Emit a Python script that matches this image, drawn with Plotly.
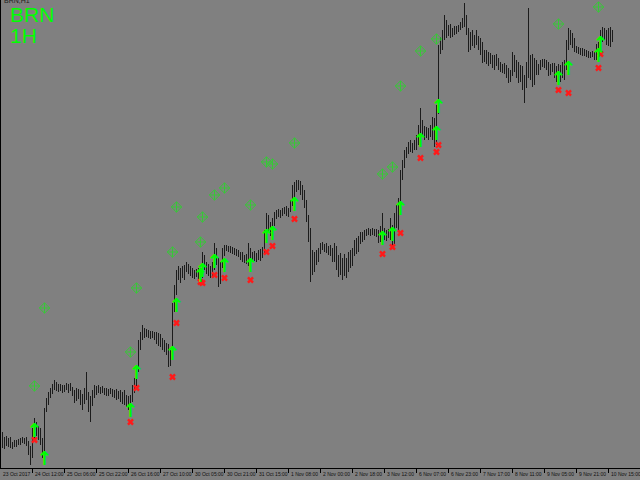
import plotly.graph_objects as go

# ---- OHLC data (BRN, 1H) ----
opens = [
57.60,57.64,57.55,57.60,57.57,57.61,57.54,57.56,57.55,57.59,57.57,57.60,57.59,57.61,57.56,57.48,
57.44,57.70,57.75,57.68,57.70,57.58,57.48,57.90,57.98,58.05,58.09,58.13,58.16,58.11,58.14,58.11,
58.12,58.14,58.12,58.15,58.10,58.07,58.01,58.09,58.04,57.98,58.02,58.05,58.02,57.92,58.00,58.07,
58.10,58.12,58.09,58.11,58.08,58.10,58.06,58.09,58.08,58.05,58.08,58.03,58.06,58.02,58.04,57.99,
57.97,57.94,58.02,58.12,58.18,58.32,58.55,58.64,58.70,58.66,58.69,58.65,58.67,58.64,58.66,58.59,
58.63,58.56,58.58,58.52,58.54,58.40,58.45,58.92,59.10,59.26,59.24,59.28,59.25,59.32,59.35,59.30,
59.27,59.24,59.28,59.26,59.24,59.28,59.42,59.34,59.32,59.28,59.30,59.34,59.50,59.38,59.20,59.35,
59.48,59.53,59.52,59.51,59.50,59.49,59.48,59.47,59.45,59.46,59.41,59.43,59.39,59.50,59.42,59.46,
59.42,59.45,59.43,59.48,59.50,59.65,59.82,59.72,59.68,59.78,59.85,59.87,59.85,59.88,59.90,59.91,
59.87,59.90,59.97,60.10,60.14,60.17,60.13,60.08,60.04,59.95,59.82,59.62,59.38,59.32,59.42,59.45,
59.48,59.54,59.52,59.55,59.50,59.52,59.47,59.42,59.50,59.35,59.40,59.30,59.38,59.28,59.38,59.44,
59.38,59.50,59.56,59.52,59.60,59.64,59.62,59.67,59.69,59.67,59.70,59.68,59.69,59.66,59.62,59.70,
59.67,59.64,59.68,59.65,59.68,59.60,59.80,59.88,59.95,60.25,60.35,60.47,60.50,60.54,60.52,60.55,
60.53,60.62,60.68,60.72,60.67,60.70,60.65,60.69,60.66,60.78,60.60,60.90,61.50,61.58,61.65,61.75,
61.68,61.72,61.66,61.70,61.68,61.72,61.73,61.75,61.78,61.80,61.70,61.55,61.62,61.58,61.62,61.57,
61.54,61.48,61.42,61.46,61.40,61.44,61.39,61.37,61.42,61.38,61.34,61.32,61.30,61.34,61.25,61.20,
61.28,61.42,61.32,61.36,61.22,61.30,61.15,61.20,61.32,61.28,61.40,61.18,61.37,61.28,61.34,61.38,
61.36,61.39,61.33,61.28,61.34,61.30,61.26,61.30,61.24,61.32,61.26,61.36,61.55,61.65,61.60,61.56,
61.52,61.50,61.48,61.50,61.47,61.49,61.46,61.45,61.47,61.44,61.46,61.50,61.54,61.65,61.68,61.62,61.66,61.58,61.64]

highs = [
57.70,57.68,57.63,57.64,57.62,57.63,57.58,57.60,57.60,57.61,57.62,57.63,57.62,57.63,57.59,57.54,
57.72,57.82,57.78,57.74,57.72,57.62,57.92,58.02,58.08,58.12,58.16,58.20,58.18,58.16,58.16,58.15,
58.15,58.17,58.16,58.17,58.13,58.10,58.12,58.11,58.10,58.06,58.12,58.28,58.08,58.04,58.10,58.15,
58.14,58.15,58.13,58.14,58.12,58.12,58.11,58.12,58.11,58.10,58.11,58.09,58.10,58.08,58.10,58.05,
58.04,58.05,58.15,58.22,58.35,58.60,58.68,58.75,58.72,58.71,58.70,58.69,58.69,58.68,58.68,58.67,
58.66,58.62,58.60,58.57,58.56,58.50,58.97,59.15,59.30,59.34,59.32,59.34,59.35,59.38,59.36,59.34,
59.32,59.30,59.31,59.32,59.30,59.48,59.45,59.38,59.36,59.34,59.38,59.57,59.52,59.42,59.38,59.52,
59.55,59.55,59.54,59.54,59.53,59.52,59.51,59.50,59.48,59.48,59.45,59.46,59.57,59.52,59.48,59.49,
59.47,59.50,59.51,59.53,59.70,59.87,59.85,59.78,59.82,59.88,59.90,59.91,59.90,59.92,59.93,59.94,
59.92,60.00,60.15,60.18,60.20,60.20,60.19,60.15,60.10,60.00,59.85,59.72,59.50,59.48,59.50,59.52,
59.57,59.58,59.56,59.57,59.54,59.55,59.52,59.57,59.54,59.45,59.47,59.42,59.46,59.42,59.48,59.50,
59.52,59.60,59.62,59.64,59.68,59.68,59.70,59.71,59.72,59.71,59.72,59.71,59.71,59.70,59.74,59.87,
59.72,59.70,59.71,59.82,59.75,59.87,59.95,60.02,60.30,60.40,60.50,60.53,60.58,60.60,60.57,60.60,
60.65,60.75,60.92,60.80,60.74,60.73,60.72,60.75,60.83,60.82,60.95,61.55,61.63,61.70,61.85,61.80,
61.75,61.76,61.72,61.74,61.74,61.75,61.78,61.82,61.97,61.85,61.72,61.68,61.70,61.65,61.70,61.64,
61.62,61.58,61.50,61.50,61.48,61.47,61.45,61.45,61.46,61.42,61.38,61.36,61.37,61.35,61.32,61.30,
61.48,61.45,61.40,61.38,61.35,61.34,61.25,61.38,61.92,61.45,61.46,61.42,61.40,61.36,61.40,61.41,
61.41,61.40,61.38,61.36,61.37,61.37,61.34,61.36,61.35,61.38,61.40,61.60,61.72,61.70,61.67,61.62,
61.54,61.53,61.52,61.52,61.51,61.50,61.49,61.48,61.49,61.48,61.56,61.58,61.70,61.73,61.72,61.70,61.72,61.73,61.70]

lows = [
57.54,57.52,57.51,57.54,57.53,57.52,57.51,57.53,57.53,57.55,57.55,57.57,57.56,57.54,57.45,57.35,
57.42,57.60,57.64,57.60,57.55,57.42,57.44,57.88,57.95,58.02,58.06,58.10,58.09,58.08,58.09,58.07,
58.08,58.10,58.07,58.09,58.04,57.97,57.99,58.01,57.95,57.90,57.96,58.00,57.88,57.78,57.94,58.02,
58.05,58.07,58.06,58.07,58.05,58.04,58.04,58.06,58.03,58.02,58.00,58.01,57.98,57.96,57.95,57.93,
57.90,57.88,57.98,58.07,58.14,58.28,58.50,58.60,58.62,58.63,58.62,58.61,58.62,58.60,58.56,58.54,
58.53,58.50,58.48,58.45,58.33,58.34,58.40,58.88,59.05,59.20,59.17,59.22,59.20,59.28,59.26,59.24,
59.22,59.21,59.23,59.21,59.21,59.22,59.30,59.26,59.24,59.22,59.24,59.30,59.35,59.13,59.16,59.32,
59.44,59.49,59.48,59.47,59.46,59.45,59.44,59.43,59.40,59.38,59.37,59.36,59.34,59.38,59.38,59.39,
59.38,59.40,59.39,59.42,59.47,59.60,59.68,59.64,59.64,59.74,59.81,59.83,59.82,59.84,59.86,59.84,
59.83,59.88,59.94,60.00,60.08,60.10,60.05,60.00,59.92,59.78,59.58,59.18,59.25,59.28,59.35,59.38,
59.46,59.50,59.48,59.47,59.45,59.44,59.38,59.38,59.30,59.23,59.25,59.20,59.24,59.22,59.28,59.32,
59.34,59.44,59.46,59.48,59.56,59.58,59.60,59.64,59.65,59.64,59.65,59.64,59.63,59.57,59.58,59.62,
59.60,59.59,59.62,59.60,59.53,59.56,59.72,59.68,59.90,60.20,60.32,60.42,60.46,60.48,60.47,60.50,
60.50,60.55,60.60,60.64,60.60,60.62,60.60,60.63,60.60,60.53,60.55,60.86,61.46,61.50,61.60,61.62,
61.64,61.62,61.63,61.65,61.66,61.68,61.70,61.72,61.73,61.65,61.48,61.50,61.54,61.52,61.55,61.50,
61.45,61.37,61.38,61.36,61.34,61.36,61.32,61.30,61.34,61.30,61.28,61.27,61.26,61.22,61.17,61.18,
61.24,61.28,61.22,61.17,61.18,61.10,60.97,61.12,61.22,61.20,61.13,61.15,61.25,61.25,61.30,61.33,
61.32,61.30,61.24,61.25,61.28,61.22,61.18,61.20,61.18,61.22,61.20,61.30,61.50,61.55,61.52,61.48,
61.47,61.46,61.45,61.44,61.44,61.43,61.42,61.42,61.43,61.40,61.40,61.42,61.50,61.58,61.60,61.55,61.54,61.53,61.58]

closes = [
57.64,57.55,57.60,57.57,57.61,57.54,57.56,57.55,57.59,57.57,57.60,57.59,57.61,57.56,57.48,57.44,
57.70,57.75,57.68,57.70,57.58,57.48,57.90,57.98,58.05,58.09,58.13,58.16,58.11,58.14,58.11,58.12,
58.14,58.12,58.15,58.10,58.07,58.01,58.09,58.04,57.98,58.02,58.05,58.02,57.92,58.00,58.07,58.10,
58.12,58.09,58.11,58.08,58.10,58.06,58.09,58.08,58.05,58.08,58.03,58.06,58.02,58.04,57.99,57.97,
57.94,58.02,58.12,58.18,58.32,58.55,58.64,58.70,58.66,58.69,58.65,58.67,58.64,58.66,58.59,58.63,
58.56,58.58,58.52,58.54,58.40,58.45,58.92,59.10,59.26,59.24,59.28,59.25,59.32,59.35,59.30,59.27,
59.24,59.28,59.26,59.24,59.28,59.42,59.34,59.32,59.28,59.30,59.34,59.50,59.38,59.20,59.35,59.48,
59.53,59.52,59.51,59.50,59.49,59.48,59.47,59.45,59.46,59.41,59.43,59.39,59.50,59.42,59.46,59.42,
59.45,59.43,59.48,59.50,59.65,59.82,59.72,59.68,59.78,59.85,59.87,59.85,59.88,59.90,59.91,59.87,
59.90,59.97,60.10,60.14,60.17,60.13,60.08,60.04,59.95,59.82,59.62,59.38,59.32,59.42,59.45,59.48,
59.54,59.52,59.55,59.50,59.52,59.47,59.42,59.50,59.35,59.40,59.30,59.38,59.28,59.38,59.44,59.38,
59.50,59.56,59.52,59.60,59.64,59.62,59.67,59.69,59.67,59.70,59.68,59.69,59.66,59.62,59.70,59.67,
59.64,59.68,59.65,59.68,59.60,59.80,59.88,59.95,60.25,60.35,60.47,60.50,60.54,60.52,60.55,60.53,
60.62,60.68,60.72,60.67,60.70,60.65,60.69,60.66,60.78,60.60,60.90,61.50,61.58,61.65,61.75,61.68,
61.72,61.66,61.70,61.68,61.72,61.73,61.75,61.78,61.80,61.70,61.55,61.62,61.58,61.62,61.57,61.54,
61.48,61.42,61.46,61.40,61.44,61.39,61.37,61.42,61.38,61.34,61.32,61.30,61.34,61.25,61.20,61.28,
61.42,61.32,61.36,61.22,61.30,61.15,61.20,61.32,61.28,61.40,61.18,61.37,61.28,61.34,61.38,61.36,
61.39,61.33,61.28,61.34,61.30,61.26,61.30,61.24,61.32,61.26,61.36,61.55,61.65,61.60,61.56,61.52,
61.50,61.48,61.50,61.47,61.49,61.46,61.45,61.47,61.44,61.46,61.50,61.54,61.65,61.68,61.62,61.66,61.58,61.64,61.62]

bar_index = list(range(len(closes)))

# ---- time axis labels (bar index of each label) ----
tick_bars = [0, 16, 32, 48, 64, 80, 96, 112, 128, 144, 160, 176, 192, 208, 224, 240, 256, 272, 288, 304]
tick_labels = ["23 Oct 2017", "24 Oct 12:00", "25 Oct 06:00", "25 Oct 22:00", "26 Oct 16:00",
               "27 Oct 10:00", "30 Oct 05:00", "30 Oct 21:00", "31 Oct 15:00", "1 Nov 08:00",
               "2 Nov 00:00", "2 Nov 18:00", "3 Nov 12:00", "6 Nov 07:00", "6 Nov 23:00",
               "7 Nov 17:00", "8 Nov 11:00", "9 Nov 05:00", "9 Nov 21:00", "10 Nov 15:00"]

# ---- indicator signals ----
buy_bars = [17, 22, 65, 68, 86, 88, 100, 101, 107, 112, 125, 133, 136, 147, 191, 196, 200, 210, 218, 219, 279, 284, 299, 300]
buy_prices = [57.68, 57.40, 57.88, 58.26, 58.45, 58.93, 59.23, 59.28, 59.37, 59.33, 59.33, 59.62, 59.65, 59.94,
              59.60, 59.64, 59.90, 60.58, 60.65, 60.92, 61.20, 61.30, 61.43, 61.55]

stop_bars = [17, 65, 68, 86, 88, 100, 101, 107, 112, 125, 133, 136, 147, 191, 196, 200, 210, 219, 218, 279, 284, 300, 299]
stop_prices = [57.60, 57.78, 58.12, 58.23, 58.77, 59.18, 59.17, 59.25, 59.22, 59.20, 59.48, 59.54, 59.81,
               59.46, 59.53, 59.67, 60.42, 60.55, 60.48, 61.10, 61.07, 61.46, 61.32]

target_bars = [17, 22, 65, 68, 86, 88, 100, 101, 107, 112, 125, 133, 136, 147, 191, 196, 200, 210, 218, 279, 299]
target_prices = [58.14, 58.92, 58.48, 59.12, 59.48, 59.93, 59.58, 59.83, 60.05, 60.12, 59.95, 60.38, 60.36, 60.57,
                 60.26, 60.33, 61.14, 61.49, 61.61, 61.76, 61.93]

X_RANGE = [0.25, 319.75]

fig = go.Figure()
fig.add_trace(go.Ohlc(
    x=bar_index, open=opens, high=highs, low=lows, close=closes,
    increasing=dict(line=dict(color="#1c1c1c", width=1)),
    decreasing=dict(line=dict(color="#1c1c1c", width=1)),
    tickwidth=0.25, hoverinfo="skip"))

fig.add_trace(go.Scatter(
    x=target_bars, y=target_prices, mode="markers",
    marker=dict(symbol="diamond-cross-open", size=8, color="#36c936", line=dict(width=1, color="#36c936")),
    hoverinfo="skip"))

fig.add_trace(go.Scatter(
    x=stop_bars, y=stop_prices, mode="markers",
    marker=dict(symbol="x", size=6, color="#ff1a1a", line=dict(width=0)),
    hoverinfo="skip"))

fig.add_trace(go.Scatter(
    x=buy_bars, y=buy_prices, mode="text", text=["<b>↑</b>"] * len(buy_bars),
    textposition="middle center",
    textfont=dict(family="DejaVu Sans", size=19, color="#00ff00"),
    hoverinfo="skip"))

annotations = []
for b, lab in zip(tick_bars, tick_labels):
    annotations.append(dict(x=max(b, X_RANGE[0] + 0.01), xref="x", y=-0.004, yref="paper", text=lab,
                            showarrow=False, xanchor="left", yanchor="top", xshift=1, borderpad=0,
                            font=dict(family="Liberation Sans", size=5, color="#111111")))

annotations.append(dict(x=0.0125, xref="paper", y=1 - 2 / 468, yref="paper", text="BRN", showarrow=False,
                        xanchor="left", yanchor="top", borderpad=0,
                        font=dict(family="Liberation Sans", size=21, color="#00ff00")))
annotations.append(dict(x=0.0125, xref="paper", y=1 - 23 / 468, yref="paper", text="1H", showarrow=False,
                        xanchor="left", yanchor="top", borderpad=0,
                        font=dict(family="Liberation Sans", size=21, color="#00ff00")))
annotations.append(dict(x=0.003, xref="paper", y=1 - 5 / 468, yref="paper", text="BRN,H1", showarrow=False,
                        xanchor="left", yanchor="bottom", borderpad=0,
                        font=dict(family="Liberation Sans", size=7, color="#202020")))

fig.update_layout(
    width=640, height=480,
    margin=dict(l=1, r=0, t=0, b=12),
    paper_bgcolor="#808080", plot_bgcolor="#808080",
    showlegend=False,
    annotations=annotations,
    xaxis=dict(range=X_RANGE, showgrid=False, zeroline=False,
               showline=True, linecolor="#000000", linewidth=1,
               ticks="outside", ticklen=4, tickcolor="#000000", tickwidth=1,
               tickvals=tick_bars, showticklabels=False,
               rangeslider=dict(visible=False)),
    yaxis=dict(range=[57.32, 62.00], showgrid=False, zeroline=False,
               showline=True, linecolor="#000000", linewidth=1,
               showticklabels=False, ticks=""),
)

fig.write_html("out.html", config={"displayModeBar": False},
               post_script="document.body.style.margin='0';document.body.style.background='#808080';")
